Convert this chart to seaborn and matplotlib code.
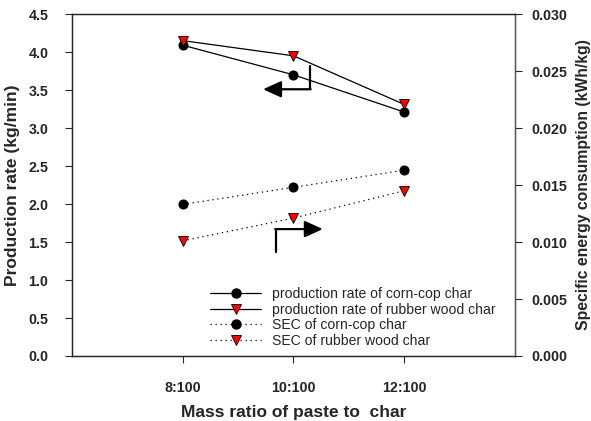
import numpy as np
import pandas as pd
import seaborn as sns
import matplotlib.pyplot as plt
from matplotlib.lines import Line2D

sns.set_style("ticks")
plt.rcParams['font.family'] = ['Liberation Sans', 'DejaVu Sans']
plt.rcParams['font.size'] = 10

# mass ratio of paste to char (x:100)
ratio = [8, 10, 12]
ratio_labels = ["8:100", "10:100", "12:100"]

# production rate (kg/min)
prod_corn = [4.09, 3.70, 3.21]
prod_rubber = [4.15, 3.95, 3.31]

# specific energy consumption (kWh/kg)
sec_corn = [0.0133, 0.0148, 0.0163]
sec_rubber = [0.0101, 0.0121, 0.0145]

df = pd.DataFrame({'ratio': ratio, 'prod_corn': prod_corn, 'prod_rubber': prod_rubber,
                   'sec_corn': sec_corn, 'sec_rubber': sec_rubber})

fig = plt.figure(figsize=(5.91, 4.21), dpi=100)
ax1 = fig.add_axes([0.1218, 0.1544, 0.7496, 0.8123])
ax2 = ax1.twinx()

circ = dict(marker='o', markersize=6.5, markerfacecolor='black', markeredgecolor='black')
tri = dict(marker='v', markersize=6.5, markerfacecolor='red', markeredgecolor='black',
           markeredgewidth=0.6)
dots = (0, (1, 3))

sns.lineplot(data=df, x='ratio', y='prod_corn', ax=ax1, color='black', linewidth=0.9, **circ)
sns.lineplot(data=df, x='ratio', y='prod_rubber', ax=ax1, color='black', linewidth=0.9, **tri)
sns.lineplot(data=df, x='ratio', y='sec_corn', ax=ax2, color='black', linewidth=0.9,
             linestyle=dots, **circ)
sns.lineplot(data=df, x='ratio', y='sec_rubber', ax=ax2, color='black', linewidth=0.9,
             linestyle=dots, **tri)

ax1.set_xlim(6, 14)
ax1.set_ylim(0, 4.5)
ax2.set_ylim(0, 0.030)
ax1.set_xticks(ratio)
ax1.set_xticklabels(ratio_labels, fontweight='bold')
ax1.set_yticks(np.arange(0, 4.51, 0.5))
ax1.set_yticklabels([f"{v:.1f}" for v in np.arange(0, 4.51, 0.5)], fontweight='bold')
ax2.set_yticks(np.arange(0, 0.0301, 0.005))
ax2.set_yticklabels([f"{v:.3f}" for v in np.arange(0, 0.0301, 0.005)], fontweight='bold')

for ax in (ax1, ax2):
    ax.tick_params(direction='out', length=5, width=0.8, labelsize=10.3)
    for s in ax.spines.values():
        s.set_linewidth(0.9)
        s.set_visible(True)
ax1.tick_params(axis='x', pad=13)
ax1.tick_params(axis='y', pad=12)
ax2.tick_params(axis='y', pad=7)
ax2.spines['right'].set_color('#555555')

ax1.set_xlabel("Mass ratio of paste to  char", fontweight='bold', fontsize=12.5, labelpad=7)
ax1.set_ylabel("Production rate (kg/min)", fontweight='bold', fontsize=12.5, labelpad=6)
ax2.set_ylabel("Specific energy consumption (kWh/kg)", fontweight='bold', fontsize=11.3,
               labelpad=6)

# direction arrows
ax1.plot([10.30, 10.30], [3.82, 3.51], color='black', lw=1.6)
ax1.annotate("", xy=(9.45, 3.51), xytext=(10.31, 3.51),
             arrowprops=dict(arrowstyle='-|>,head_length=0.55,head_width=0.25',
                             mutation_scale=20, color='black', lw=1.6, shrinkA=0, shrinkB=0))
ax1.plot([9.68, 9.68], [1.37, 1.67], color='black', lw=1.6)
ax1.annotate("", xy=(10.53, 1.67), xytext=(9.67, 1.67),
             arrowprops=dict(arrowstyle='-|>,head_length=0.55,head_width=0.25',
                             mutation_scale=20, color='black', lw=1.6, shrinkA=0, shrinkB=0))

handles = [
    Line2D([], [], color='black', lw=0.9, **circ),
    Line2D([], [], color='black', lw=0.9, **tri),
    Line2D([], [], color='black', lw=0.9, linestyle=dots, **circ),
    Line2D([], [], color='black', lw=0.9, linestyle=dots, **tri),
]
labels = ["production rate of corn-cop char", "production rate of rubber wood char",
          "SEC of corn-cop char", "SEC of rubber wood char"]
ax2.legend(handles, labels, loc='lower left', bbox_to_anchor=(0.29, -0.005), frameon=False,
           fontsize=10.1, handlelength=3.6, handletextpad=0.8, labelspacing=0.12,
           borderpad=0.2)

fig.savefig("out.png", dpi=100)
